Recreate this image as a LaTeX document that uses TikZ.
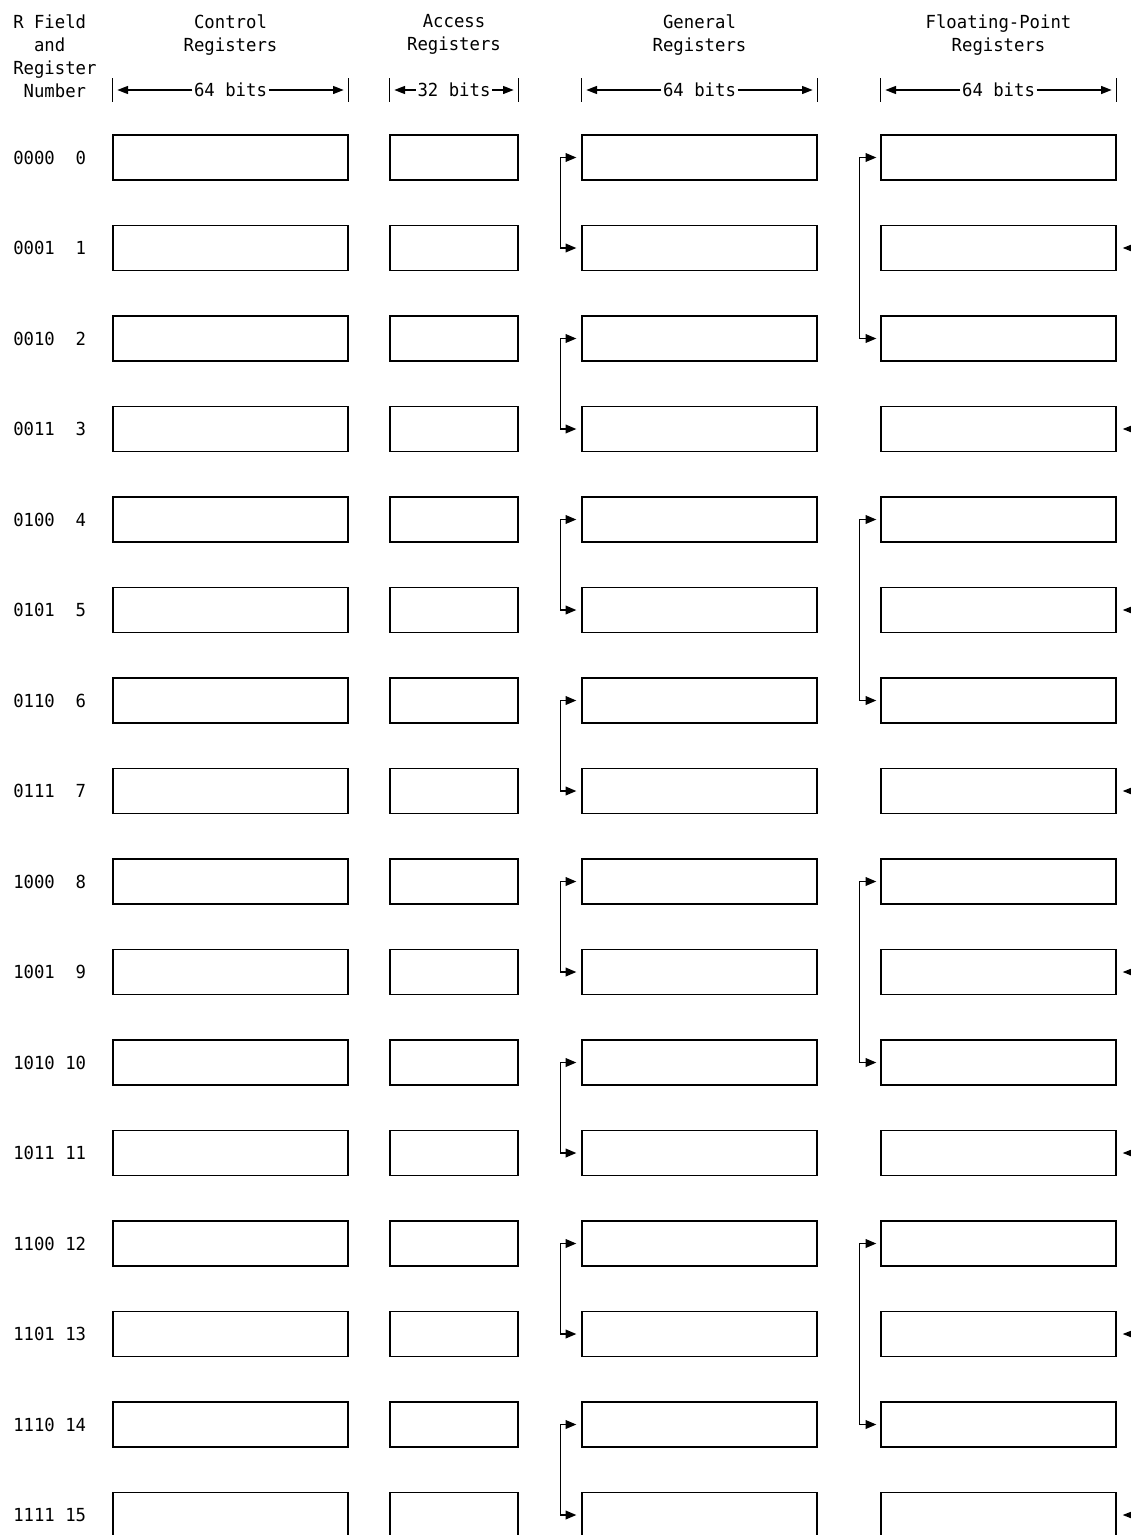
\documentclass[tikz,border=0pt]{standalone}
\usepackage{fontspec}
\setmonofont[FakeStretch=0.96]{DejaVu Sans Mono}
\usetikzlibrary{arrows.meta,positioning,calc}

\begin{document}
\begin{tikzpicture}[x=0.75pt,y=-0.75pt,
  txt/.style={font=\ttfamily\fontsize{13.5}{17.25}\selectfont,inner sep=0pt},
  regbox/.style={draw,line width=1pt,inner sep=0pt,minimum height=33.75pt,minimum width=#1},
  dimbar/.style={line width=1pt},
  dimtip/.style={line width=1pt,-{Triangle[length=8pt,width=6pt]}},
  link/.style={line width=1pt,{Triangle[length=8pt,width=6.5pt]}-{Triangle[length=8pt,width=6.5pt]}}]
  \useasboundingbox (0,0) rectangle (1131,1535);
  \def\pitch{90.5}
  \foreach \i/\code in {0/0000,1/0001,2/0010,3/0011,4/0100,5/0101,6/0110,7/0111,
      8/1000,9/1001,10/1010,11/1011,12/1100,13/1101,14/1110,15/1111}{
    \pgfmathsetmacro\ry{157.5+\pitch*\i}
    \node[txt,anchor=west] (num\i) at (13,\ry) {\code\ \ifnum\i<10 \phantom{0}\fi\i};
    \node[regbox=176.25pt] (ctl\i) at (230.5,\ry) {};
    \node[regbox=96pt] (acc\i) at (454,\ry) {};
    \node[regbox=176.25pt] (gen\i) at (699.5,\ry) {};
    \node[regbox=176.25pt] (fpr\i) at (998.5,\ry) {};
  }
  \node[txt,align=left,anchor=north west] (rfield) at (13,14.3)
    {R Field\\\phantom{RR}and\\Register\\\phantom{R}Number};
  \foreach \col/\bits/\name in {ctl/64/Control,acc/32/Access,gen/64/General,fpr/64/Floating-Point}{
    \node[txt,align=center,anchor=north] (head\col) at (\col0 |- 0,14.3) {\name\\Registers};
    \node[txt,inner sep=1pt] (dim\col) at (\col0 |- 0,90) {\bits\ bits};
    \draw[dimbar] ($(dim\col -| \col0.west)+(0,-12)$) -- ($(dim\col -| \col0.west)+(0,12)$);
    \draw[dimbar] ($(dim\col -| \col0.east)+(0,-12)$) -- ($(dim\col -| \col0.east)+(0,12)$);
    \draw[dimtip] (dim\col.west) -- ($(dim\col -| \col0.west)+(5,0)$);
    \draw[dimtip] (dim\col.east) -- ($(dim\col -| \col0.east)+(-5,0)$);
  }
  \foreach \a in {0,2,...,14}{
    \pgfmathtruncatemacro\b{\a+1}
    \draw[link] ($(gen\a.west)+(-5,0)$) -- ++(-16,0) |- ($(gen\b.west)+(-5,0)$);
  }
  \foreach \a in {0,4,8,12}{
    \pgfmathtruncatemacro\b{\a+2}
    \draw[link] ($(fpr\a.west)+(-4,0)$) -- ++(-17,0) |- ($(fpr\b.west)+(-4,0)$);
  }
  \foreach \a in {1,3,...,15}{
    \coordinate (in\a) at ($(fpr\a.east)+(40,0)$);
    \draw[dimtip] (in\a) -- ($(fpr\a.east)+(6,0)$);
  }
\end{tikzpicture}
\end{document}
